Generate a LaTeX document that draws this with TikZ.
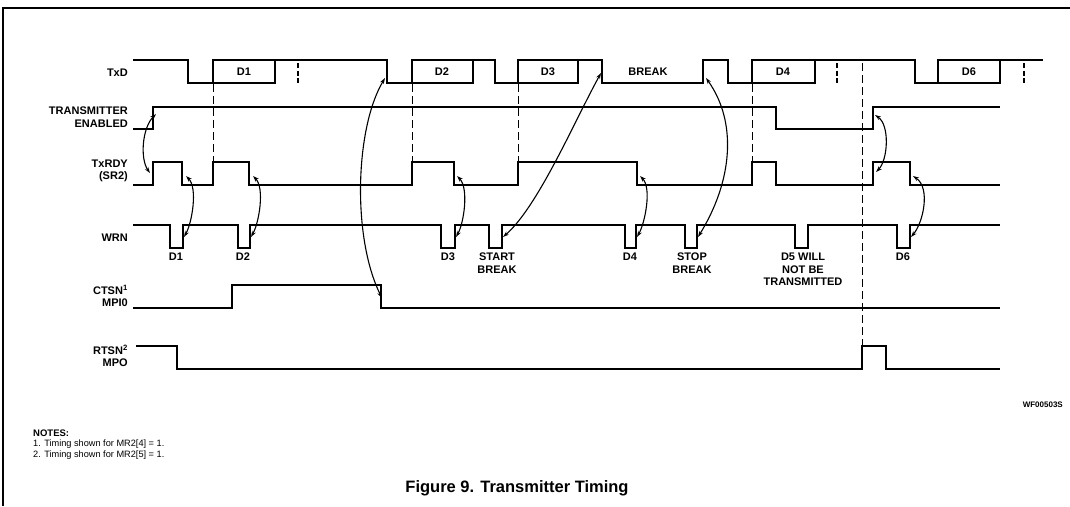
\documentclass[tikz,border=0pt]{standalone}
\usepackage{fontspec}
\setmainfont{Liberation Sans}
\usetikzlibrary{arrows.meta, positioning}

\begin{document}
\begin{tikzpicture}[
    x=1pt, y=-1pt,
    every node/.style={inner sep=0pt, font=\fontsize{11}{12.5}\selectfont\bfseries},
    wave/.style={
        line width=1.4pt,
        line join=miter
    },
    guide/.style={
        line width=1pt,
        dash pattern=on 8pt off 4pt
    },
    bitmark/.style={
        line width=2.2pt,
        dash pattern=on 5pt off 2.5pt
    },
    siglabel/.style={anchor=east, align=right},
    evlabel/.style={anchor=north, align=center},
    note/.style={anchor=north west, font=\fontsize{9.2}{10}\selectfont},
    arrow/.style={
        {Stealth[length=6pt,width=4pt]}-{Stealth[length=6pt,width=4pt]},
        line width=1.1pt
    }
]

\useasboundingbox (0,0) rectangle (1070,506);
\draw[line width=1.2pt] (3,506) -- (3,8) -- (1070,8);

\node[siglabel] (txd) at (128,73) {TxD};
\node[siglabel] (en) at (128,117) {TRANSMITTER\\ENABLED};
\node[siglabel] (rdy) at (128,171) {TxRDY\\(SR2)};
\node[siglabel] (wrn) at (128,238) {WRN};
\node[siglabel] (cts) at (128,296) {CTSN\textsuperscript{1}\\MPI0};
\node[siglabel] (rts) at (128,356) {RTSN\textsuperscript{2}\\MPO};

\draw[wave] (133,60) -- (188,60) -- (188,83) -- (213,83) -- (213,60) -- (387,60) -- (387,83)
    -- (412,83) -- (412,60) -- (495,60) -- (495,83) -- (518,83) -- (518,60) -- (602,60)
    -- (602,83) -- (703,83) -- (703,60) -- (728,60) -- (728,83) -- (752,83) -- (752,60)
    -- (915,60) -- (915,83) -- (938,83) -- (938,60) -- (1043,60);
\draw[wave] (213,83) -- (275,83) -- (275,60);
\draw[wave] (412,83) -- (473,83) -- (473,60);
\draw[wave] (518,83) -- (578,83) -- (578,60);
\draw[wave] (752,83) -- (815,83) -- (815,60);
\draw[wave] (938,83) -- (1000,83) -- (1000,60);
\draw[bitmark] (298,63) -- (298,84);
\draw[bitmark] (837,63) -- (837,84);
\draw[bitmark] (1024,63) -- (1024,84);

\node (d1) at (244,72) {D1};
\node (d2) at (442,72) {D2};
\node (d3) at (548,72) {D3};
\node (brk) at (648,72) {BREAK};
\node (d4) at (783,72) {D4};
\node (d6) at (969,72) {D6};

\draw[wave] (133,129) -- (153,129) -- (153,107) -- (776,107) -- (776,129) -- (873,129)
    -- (873,107) -- (1000,107);

\draw[wave] (133,185) -- (153,185) -- (153,162) -- (182,162) -- (182,185) -- (213,185)
    -- (213,162) -- (249,162) -- (249,185) -- (412,185) -- (412,162) -- (454,162)
    -- (454,185) -- (518,185) -- (518,162) -- (637,162) -- (637,185) -- (752,185)
    -- (752,162) -- (776,162) -- (776,185) -- (873,185) -- (873,162) -- (910,162)
    -- (910,185) -- (1000,185);

\draw[wave] (133,225) -- (170,225) -- (170,248) -- (183,248) -- (183,225) -- (238,225)
    -- (238,248) -- (250,248) -- (250,225) -- (441,225) -- (441,248) -- (455,248)
    -- (455,225) -- (489,225) -- (489,248) -- (502,248) -- (502,225) -- (625,225)
    -- (625,248) -- (636,248) -- (636,225) -- (685,225) -- (685,248) -- (697,248)
    -- (697,225) -- (795,225) -- (795,248) -- (808,248) -- (808,225) -- (897,225)
    -- (897,248) -- (910,248) -- (910,225) -- (1000,225);

\node[evlabel] (wd1) at (176,253) {D1};
\node[evlabel] (wd2) at (243,253) {D2};
\node[evlabel] (wd3) at (448,253) {D3};
\node[evlabel] (wsb) at (497,253) {START\\BREAK};
\node[evlabel] (wd4) at (630,253) {D4};
\node[evlabel] (wpb) at (692,253) {STOP\\BREAK};
\node[evlabel] (wd5) at (803,253) {D5 WILL\\NOT BE\\TRANSMITTED};
\node[evlabel] (wd6) at (903,253) {D6};

\draw[wave] (133,308) -- (232,308) -- (232,285) -- (381,285) -- (381,308) -- (1000,308);

\draw[wave] (136,346) -- (177,346) -- (177,369) -- (862,369) -- (862,346) -- (886,346)
    -- (886,369) -- (1000,369);

\draw[guide] (213,84) -- (213,162);
\draw[guide] (412,84) -- (412,162);
\draw[guide] (518,84) -- (518,162);
\draw[guide] (752,84) -- (752,162);
\draw[guide] (862,63) -- (862,346);

\coordinate (en1) at (156,114);
\coordinate (rdy1) at (150,173);
\coordinate (rdy2) at (186,176);
\coordinate (wrn1) at (184,237);
\coordinate (rdy3) at (253,176);
\coordinate (wrn2) at (251,237);
\coordinate (txd1) at (385,78);
\coordinate (cts1) at (382,298);
\coordinate (rdy4) at (457,176);
\coordinate (wrn3) at (456,237);
\coordinate (wrn4) at (503,237);
\coordinate (txd2) at (601,73);
\coordinate (rdy5) at (640,176);
\coordinate (wrn5) at (637,237);
\coordinate (txd3) at (706,78);
\coordinate (wrn6) at (698,237);
\coordinate (en2) at (875,115);
\coordinate (rdy6) at (876,172);
\coordinate (rdy7) at (913,176);
\coordinate (wrn7) at (911,237);

\draw[arrow] (en1) .. controls +(-14,14) and +(-10,-14) .. (rdy1);
\draw[arrow] (rdy2) .. controls +(12,12) and +(8,-14) .. (wrn1);
\draw[arrow] (rdy3) .. controls +(12,12) and +(8,-14) .. (wrn2);
\draw[arrow] (txd1) .. controls +(-30,50) and +(-30,-60) .. (cts1);
\draw[arrow] (rdy4) .. controls +(12,12) and +(8,-14) .. (wrn3);
\draw[arrow] (wrn4) .. controls +(35,-30) and +(-25,45) .. (txd2);
\draw[arrow] (rdy5) .. controls +(12,12) and +(8,-14) .. (wrn5);
\draw[arrow] (txd3) .. controls +(32,45) and +(34,-55) .. (wrn6);
\draw[arrow] (en2) .. controls +(15,10) and +(12,-12) .. (rdy6);
\draw[arrow] (rdy7) .. controls +(18,12) and +(12,-14) .. (wrn7);

\node[anchor=east, font=\fontsize{8}{9}\selectfont\bfseries] (code) at (1063,405) {WF00503S};

\node[anchor=west, font=\fontsize{9.5}{10}\selectfont\bfseries] (notes) at (33,433) {NOTES:};
\node[note] (note1) at ([yshift=-3pt]notes.south west) {1. Timing shown for MR2[4] = 1.};
\node[note] (note2) at ([yshift=-2pt]note1.south west) {2. Timing shown for MR2[5] = 1.};

\node[font=\fontsize{16.5}{18}\selectfont\bfseries] (caption) at (517,488) {Figure 9. Transmitter Timing};

\end{tikzpicture}
\end{document}
